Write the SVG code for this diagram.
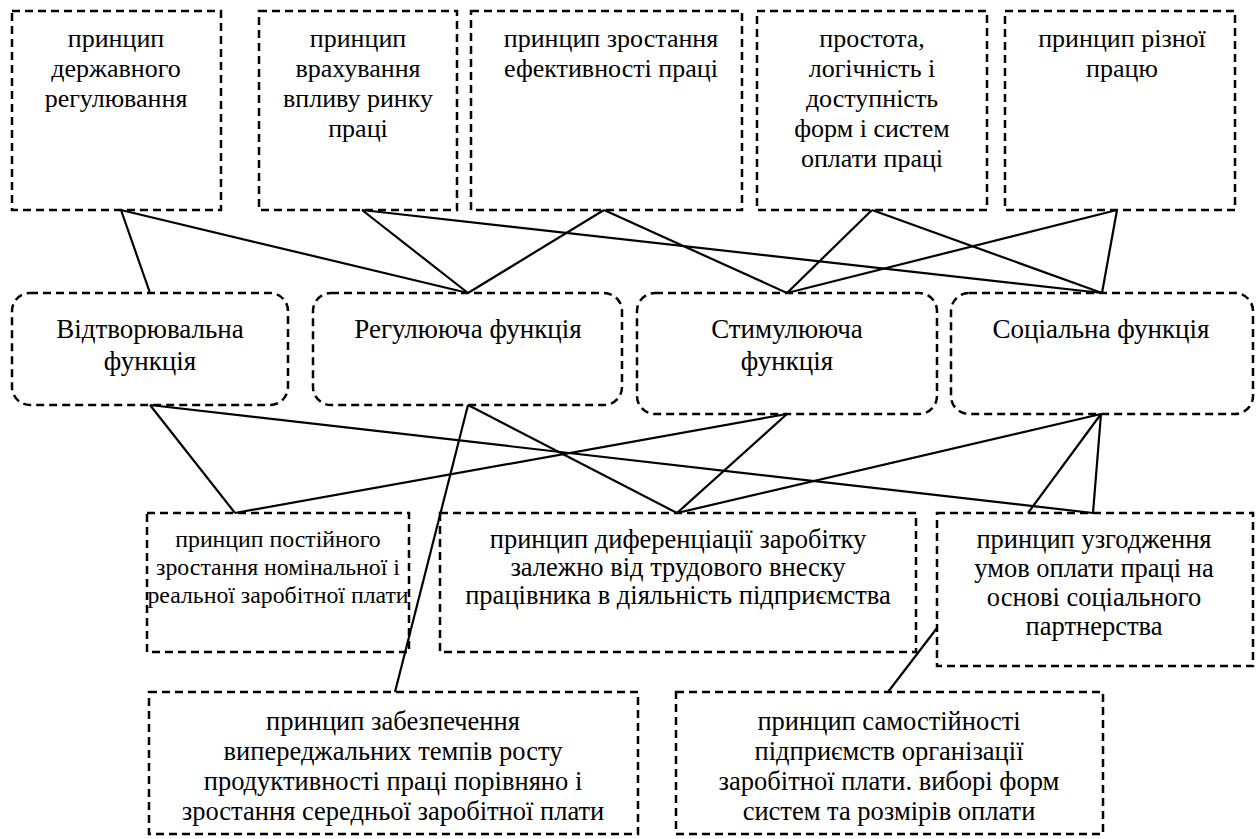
<svg xmlns="http://www.w3.org/2000/svg" width="1259" height="839" viewBox="0 0 1259 839">
<style>
.b{fill:none;stroke:#000;stroke-width:2.5;stroke-dasharray:8 5}
text{font-family:'Liberation Serif',serif;fill:#000;text-anchor:middle}
.t{font-size:26px}
.m{font-size:27px}
.u{font-size:26.5px}
.s{font-size:23.8px}
.c line{stroke:#000;stroke-width:2.2;fill:none}
</style>
<rect width="1259" height="839" fill="#fff"/>
<g id="p1"><rect class="b" x="12" y="11" width="209" height="199"/><text class="t" x="116" y="47">принцип</text><text class="t" x="116" y="77">державного</text><text class="t" x="116" y="107">регулювання</text></g>
<g id="p2"><rect class="b" x="259" y="11" width="198" height="199"/><text class="t" x="358" y="47">принцип</text><text class="t" x="358" y="77">врахування</text><text class="t" x="358" y="107">впливу ринку</text><text class="t" x="358" y="137">праці</text></g>
<g id="p3"><rect class="b" x="471" y="11" width="271" height="199"/><text class="t" x="611" y="47">принцип зростання</text><text class="t" x="611" y="77">ефективності праці</text></g>
<g id="p4"><rect class="b" x="757" y="11" width="230" height="199"/><text class="t" x="872" y="47">простота,</text><text class="t" x="872" y="77">логічність і</text><text class="t" x="872" y="107">доступність</text><text class="t" x="872" y="137">форм і систем</text><text class="t" x="872" y="167">оплати праці</text></g>
<g id="p5"><rect class="b" x="1005" y="11" width="230" height="199"/><text class="t" x="1122" y="47">принцип різної</text><text class="t" x="1122" y="77">працю</text></g>
<g id="f1"><rect class="b" x="12" y="293" width="276" height="112" rx="18"/><text class="m" x="150" y="338">Відтворювальна</text><text class="m" x="150" y="370">функція</text></g>
<g id="f2"><rect class="b" x="313" y="293" width="309" height="112" rx="18"/><text class="m" x="468" y="338">Регулююча функція</text></g>
<g id="f3"><rect class="b" x="637" y="293" width="300" height="121" rx="18"/><text class="m" x="787" y="338">Стимулююча</text><text class="m" x="787" y="370">функція</text></g>
<g id="f4"><rect class="b" x="951" y="293" width="302" height="121" rx="18"/><text class="m" x="1101" y="338">Соціальна функція</text></g>
<g id="q1"><rect class="b" x="147" y="513" width="262" height="139"/><text class="s" x="278" y="547">принцип постійного</text><text class="s" x="278" y="575">зростання номінальної і</text><text class="s" x="278" y="603">реальної заробітної плати</text></g>
<g id="q2"><rect class="b" x="440" y="513" width="476" height="139"/><text class="u" x="678" y="548">принцип диференціації заробітку</text><text class="u" x="678" y="576">залежно від трудового внеску</text><text class="u" x="678" y="604">працівника в діяльність підприємства</text></g>
<g id="q3"><rect class="b" x="937" y="513" width="316" height="153"/><text class="u" x="1094" y="548">принцип узгодження</text><text class="u" x="1094" y="577">умов оплати праці на</text><text class="u" x="1094" y="606">основі соціального</text><text class="u" x="1094" y="635">партнерства</text></g>
<g id="q4"><rect class="b" x="149" y="692" width="489" height="142"/><text class="u" x="393" y="730">принцип забезпечення</text><text class="u" x="393" y="760">випереджальних темпів росту</text><text class="u" x="393" y="790">продуктивності праці порівняно і</text><text class="u" x="393" y="820">зростання середньої заробітної плати</text></g>
<g id="q5"><rect class="b" x="676" y="692" width="427" height="142"/><text class="u" x="889" y="730">принцип самостійності</text><text class="u" x="889" y="760">підприємств організації</text><text class="u" x="889" y="790">заробітної плати. виборі форм</text><text class="u" x="889" y="820">систем та розмірів оплати</text></g>
<g id="connectors" class="c">
<line x1="121" y1="210" x2="150" y2="293"/>
<line x1="121" y1="210" x2="468" y2="293"/>
<line x1="362" y1="210" x2="468" y2="293"/>
<line x1="362" y1="210" x2="1102" y2="293"/>
<line x1="604" y1="210" x2="468" y2="293"/>
<line x1="604" y1="210" x2="787" y2="293"/>
<line x1="872" y1="210" x2="787" y2="293"/>
<line x1="872" y1="210" x2="1102" y2="293"/>
<line x1="1117" y1="210" x2="787" y2="293"/>
<line x1="1117" y1="210" x2="1102" y2="293"/>
<line x1="150" y1="405" x2="235" y2="513"/>
<line x1="150" y1="405" x2="1093" y2="513"/>
<line x1="468" y1="405" x2="677" y2="513"/>
<line x1="468" y1="405" x2="395" y2="692"/>
<line x1="787" y1="414" x2="235" y2="513"/>
<line x1="787" y1="414" x2="677" y2="513"/>
<line x1="1101" y1="414" x2="677" y2="513"/>
<line x1="1101" y1="414" x2="1028" y2="513"/>
<line x1="1101" y1="414" x2="1093" y2="513"/>
<line x1="937" y1="628" x2="888" y2="692"/>
</g>
</svg>
